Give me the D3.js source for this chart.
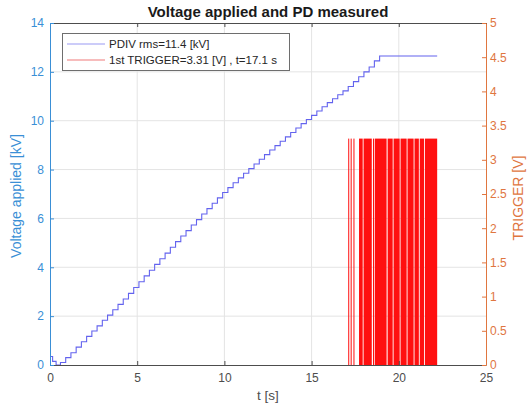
<!DOCTYPE html>
<html>
<head>
<meta charset="utf-8">
<script src="https://cdn.jsdelivr.net/npm/d3@7"></script>
<style>
  html, body { margin: 0; padding: 0; background: #ffffff; }
  svg { display: block; font-family: "Liberation Sans", Arial, sans-serif; }
</style>
</head>
<body>
<svg id="chart" width="529" height="410"></svg>
<script>
// Applied voltage (kV) sampled at the step controller times (s)
const voltTime = [0, 0.15, 0.35, 0.6, 0.9, 1.2, 1.5, 1.8, 2.1, 2.4, 2.7, 3.0, 3.3, 3.6, 3.9,
  4.2, 4.5, 4.8, 5.1, 5.4, 5.7, 6.0, 6.3, 6.6, 6.9, 7.2, 7.5, 7.8, 8.1, 8.4, 8.7,
  9.0, 9.3, 9.6, 9.9, 10.2, 10.5, 10.8, 11.1, 11.4, 11.7, 12.0, 12.3, 12.6, 12.9,
  13.2, 13.5, 13.8, 14.1, 14.4, 14.7, 15.0, 15.3, 15.6, 15.9, 16.2, 16.5, 16.8,
  17.1, 17.4, 17.7, 18.0, 18.3, 18.6, 18.9, 22.2];
const voltKV = [0.35, 0.15, 0.0, 0.1, 0.3, 0.5, 0.73, 0.95, 1.17, 1.39, 1.6, 1.83, 2.04, 2.26, 2.48,
  2.7, 2.93, 3.17, 3.41, 3.65, 3.88, 4.12, 4.35, 4.58, 4.82, 5.05, 5.28, 5.5, 5.73, 5.95, 6.18,
  6.4, 6.62, 6.84, 7.06, 7.26, 7.46, 7.66, 7.85, 8.04, 8.23, 8.42, 8.61, 8.8, 8.98,
  9.16, 9.34, 9.52, 9.7, 9.88, 10.05, 10.22, 10.4, 10.57, 10.74, 10.9, 11.06, 11.22,
  11.4, 11.6, 11.8, 12.0, 12.2, 12.45, 12.65, 12.65];

// PD trigger pulses: [start, end] in seconds, each at the trigger level
const triggerLevel = 3.31;
const triggerPulses = [[17.10, 17.13], [17.24, 17.27], [17.40, 17.43], [17.72, 17.93],
  [17.98, 18.45], [18.52, 18.56], [18.62, 19.30], [19.36, 19.65], [19.70, 20.05],
  [20.10, 20.45], [20.50, 20.85], [20.90, 21.15], [21.20, 21.45], [21.50, 22.20]];

const xTicks = [0, 5, 10, 15, 20, 25];
const yLeftTicks = [0, 2, 4, 6, 8, 10, 12, 14];
const yRightTicks = [0, 0.5, 1, 1.5, 2, 2.5, 3, 3.5, 4, 4.5, 5];

const legendLabels = ["PDIV rms=11.4 [kV]", "1st TRIGGER=3.31 [V] , t=17.1 s"];
const titleText = "Voltage applied and PD measured";

const colLeft = "#3a8fd6", colRight = "#e0763f", colAxis = "#4d4d4d", colGrid = "#e4e4e4";
const colVolt = "#6363ee", colTrig = "#ff1010";

const L = 50, R = 486, T = 23, B = 365;
const svg = d3.select("#chart");

const x = d3.scaleLinear().domain([0, 25]).range([L, R]);
const yL = d3.scaleLinear().domain([0, 14]).range([B, T]);
const yR = d3.scaleLinear().domain([0, 5]).range([B, T]);

// grid
const grid = svg.append("g");
grid.selectAll("line.gx").data(xTicks.slice(1, -1)).join("line")
  .attr("x1", d => x(d)).attr("x2", d => x(d)).attr("y1", T).attr("y2", B)
  .attr("stroke", colGrid).attr("stroke-width", 1);
grid.selectAll("line.gy").data(yLeftTicks.slice(1, -1)).join("line")
  .attr("y1", d => yL(d)).attr("y2", d => yL(d)).attr("x1", L).attr("x2", R)
  .attr("stroke", colGrid).attr("stroke-width", 1);

// trigger pulses
svg.append("g").selectAll("rect").data(triggerPulses).join("rect")
  .attr("x", d => x(d[0]))
  .attr("width", d => Math.max(1, x(d[1]) - x(d[0])))
  .attr("y", yR(triggerLevel))
  .attr("height", yR(0) - yR(triggerLevel))
  .attr("fill", colTrig);

// voltage staircase
const voltData = voltTime.map((t, i) => [t, voltKV[i]]);
svg.append("path").datum(voltData)
  .attr("fill", "none").attr("stroke", colVolt).attr("stroke-width", 1.1)
  .attr("d", d3.line().x(d => x(d[0])).y(d => yL(d[1])).curve(d3.curveStepAfter));

const fontSize = "12px";
function styleAxis(g, color) {
  g.selectAll(".domain").attr("stroke", color);
  g.selectAll(".tick line").attr("stroke", color);
  g.selectAll(".tick text").attr("fill", color).style("font-size", fontSize)
    .style("font-family", "'Liberation Sans', Arial, sans-serif");
}

// bottom axis
const gx = svg.append("g").attr("transform", `translate(0,${B})`)
  .call(d3.axisBottom(x).tickValues(xTicks).tickSize(-4).tickPadding(8).tickSizeOuter(0));
styleAxis(gx, colAxis);
// top axis (ticks only)
const gxt = svg.append("g").attr("transform", `translate(0,${T})`)
  .call(d3.axisTop(x).tickValues(xTicks).tickSize(-4).tickFormat("").tickSizeOuter(0));
styleAxis(gxt, colAxis);

// left axis
const gl = svg.append("g").attr("transform", `translate(${L},0)`)
  .call(d3.axisLeft(yL).tickValues(yLeftTicks).tickSize(-4).tickPadding(6).tickSizeOuter(0));
styleAxis(gl, colLeft);

// right axis
const gr = svg.append("g").attr("transform", `translate(${R},0)`)
  .call(d3.axisRight(yR).tickValues(yRightTicks).tickSize(-4).tickPadding(4)
    .tickFormat(d3.format("~g")).tickSizeOuter(0));
styleAxis(gr, colRight);

// axis labels and title
svg.append("text").attr("x", (L + R) / 2).attr("y", 400).attr("text-anchor", "middle")
  .attr("fill", colAxis).style("font-size", "13.5px").text("t [s]");
svg.append("text").attr("transform", `translate(21,${(T + B) / 2 + 2}) rotate(-90)`)
  .attr("text-anchor", "middle").attr("fill", colLeft).style("font-size", "14px")
  .text("Voltage applied [kV]");
svg.append("text").attr("transform", `translate(523,${(T + B) / 2 + 4}) rotate(-90)`)
  .attr("text-anchor", "middle").attr("fill", colRight).style("font-size", "14px")
  .text("TRIGGER [V]");
svg.append("text").attr("x", 268).attr("y", 17).attr("text-anchor", "middle")
  .attr("fill", "#1a1a1a").style("font-size", "15px").style("font-weight", "bold")
  .text(titleText);

// legend
const lg = svg.append("g");
lg.append("rect").attr("x", 62.5).attr("y", 33.5).attr("width", 227).attr("height", 37)
  .attr("fill", "#ffffff").attr("stroke", "#6e6e6e").attr("stroke-width", 1);
const legendColors = ["#9a9af4", "#f07a7a"];
legendLabels.forEach((lab, i) => {
  const yy = 44 + i * 16;
  lg.append("line").attr("x1", 67).attr("x2", 105).attr("y1", yy).attr("y2", yy)
    .attr("stroke", legendColors[i]).attr("stroke-width", 1.2);
  lg.append("text").attr("x", 109).attr("y", yy + 4).attr("fill", "#262626")
    .style("font-size", "11.5px").text(lab);
});
</script>
</body>
</html>
